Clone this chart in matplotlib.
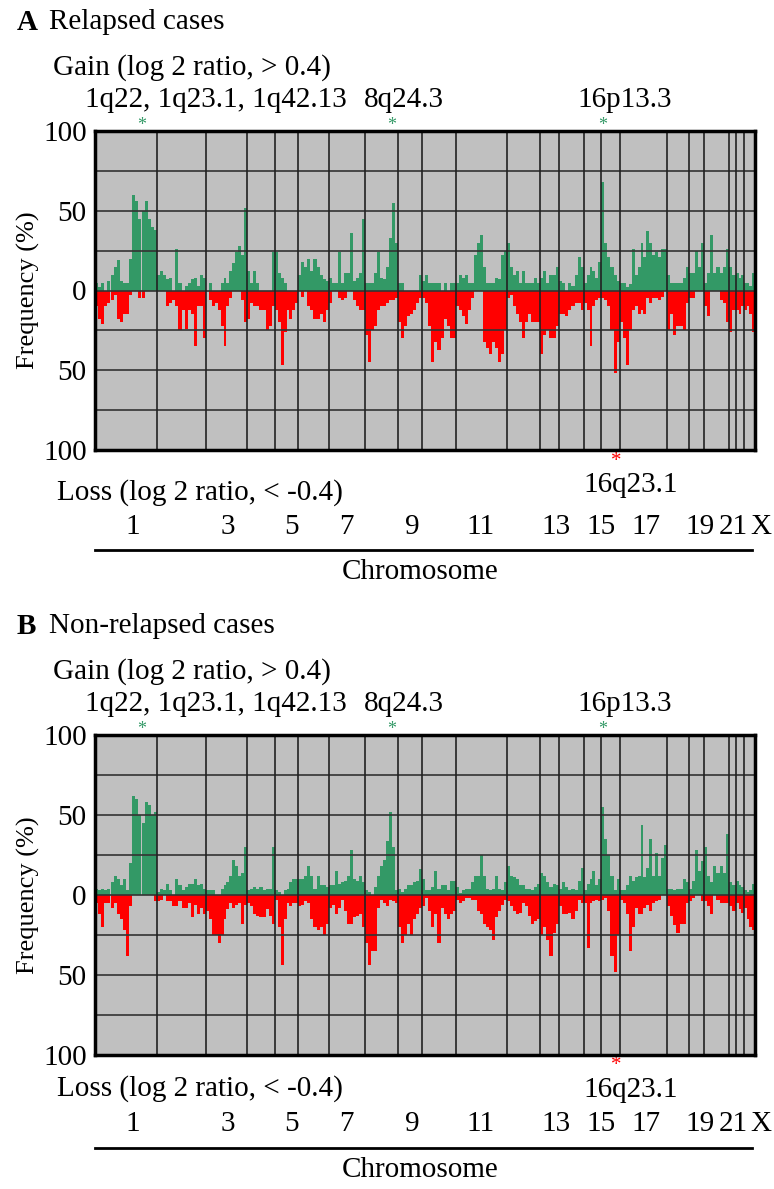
import matplotlib
matplotlib.use("Agg")
import matplotlib.pyplot as plt
from matplotlib.lines import Line2D
from matplotlib.transforms import blended_transform_factory
import numpy as np

plt.rcParams['font.family'] = ['Liberation Serif', 'DejaVu Serif']

# chromosomes and their width on the genome axis
chroms = ['1', '2', '3', '4', '5', '6', '7', '8', '9', '10', '11', '12',
          '13', '14', '15', '16', '17', '18', '19', '20', '21', '22', 'X']
chrom_span = [62, 49, 41, 28, 23, 31, 36, 33, 24, 34, 51, 33,
              19, 25, 17, 19, 47, 22, 15, 25, 7, 8, 11]

# chromosome labels under the axis
label_chroms = ['1', '3', '5', '7', '9', '11', '13', '15', '17', '19', '21', 'X']
label_pos = [38, 133, 197, 251, 317, 386, 461, 506, 551, 605, 638, 666]

# marked loci (genome position)
gain_loci = ['1q22, 1q23.1, 1q42.13', '8q24.3', '16p13.3']
gain_star_pos = [47, 297, 508]
loss_locus = '16q23.1'
loss_star_pos = 521

# frequency (%) per segment, one list per chromosome
relapsed_gain = [
    [5, 2, 5, 0, 6, 10, 15, 19, 6, 5, 5, 20, 60, 56, 45, 50, 56, 45, 40, 38],
    [10, 12, 10, 7, 8, 0, 26, 5, 0, 3, 5, 7, 8, 3, 10, 8],
    [0, 5, 0, 0, 0, 5, 8, 5, 12, 17, 24, 28, 22, 52],
    [12, 5, 12, 5, 0, 0, 0, 0, 24],
    [24, 11, 8, 5, 0, 0, 0, 0],
    [10, 18, 15, 20, 12, 20, 15, 10, 7, 6],
    [8, 5, 5, 24, 5, 11, 11, 36, 6, 8, 11, 45],
    [5, 5, 5, 11, 24, 8, 7, 15, 33, 55, 30],
    [5, 5, 0, 0, 0, 0, 0, 10],
    [6, 10, 5, 5, 5, 5, 0, 5, 0, 5, 5],
    [5, 10, 8, 10, 5, 5, 22, 30, 35, 15, 5, 5, 5, 8, 7, 22, 25],
    [30, 15, 10, 12, 5, 12, 5, 5, 5, 8, 5],
    [8, 12, 5, 10, 10, 15],
    [6, 5, 0, 5, 3, 10, 21, 15],
    [5, 10, 15, 12, 8, 18],
    [68, 30, 21, 15, 10, 6],
    [5, 5, 2, 4, 26, 10, 15, 30, 21, 37, 30, 22, 24, 21, 26, 26],
    [10, 5, 5, 5, 5, 8, 15],
    [11, 11, 25, 15, 30],
    [5, 11, 35, 11, 15, 11, 15, 26],
    [15, 10],
    [11, 8, 10],
    [5, 5, 3, 11],
]
relapsed_loss = [
    [10, 18, 21, 10, 8, 6, 3, 18, 20, 15, 15, 3, 0, 0, 5, 5, 0, 0, 0, 0],
    [0, 0, 0, 10, 8, 6, 10, 25, 12, 24, 12, 15, 35, 10, 10, 30],
    [0, 6, 10, 8, 12, 22, 35, 10, 5, 0, 0, 0, 6, 20],
    [18, 8, 10, 10, 12, 12, 25, 22, 10],
    [12, 20, 47, 26, 12, 18, 12, 8],
    [0, 4, 0, 10, 12, 18, 18, 15, 20, 12],
    [8, 0, 0, 5, 6, 5, 0, 0, 6, 10, 12, 12],
    [28, 45, 25, 22, 12, 10, 10, 8, 6, 6, 5],
    [20, 30, 22, 16, 15, 12, 8, 5],
    [5, 8, 22, 45, 32, 37, 30, 18, 22, 30, 30],
    [10, 12, 16, 21, 12, 5, 0, 0, 0, 32, 36, 40, 32, 36, 45, 40, 25],
    [5, 3, 10, 15, 20, 30, 20, 15, 20, 20, 20],
    [40, 28, 25, 30, 30, 22],
    [15, 15, 16, 12, 10, 8, 8, 12],
    [8, 12, 35, 10, 6, 5],
    [5, 6, 10, 25, 52, 32],
    [20, 30, 47, 25, 12, 10, 15, 12, 15, 5, 8, 5, 5, 6, 4, 0],
    [25, 15, 28, 22, 22, 25, 8],
    [5, 5, 0, 0, 0],
    [10, 16, 0, 0, 0, 6, 8, 20],
    [26, 12],
    [12, 15, 10],
    [12, 10, 15, 26],
]
nonrelapsed_gain = [
    [4, 3, 4, 3, 4, 8, 12, 10, 6, 10, 3, 20, 62, 60, 50, 45, 58, 56, 50, 52],
    [2, 4, 3, 7, 3, 0, 10, 6, 3, 5, 7, 7, 10, 6, 7, 4],
    [3, 3, 3, 0, 0, 4, 6, 8, 12, 22, 18, 12, 14, 30],
    [3, 4, 5, 4, 5, 3, 4, 4, 30],
    [3, 2, 0, 3, 4, 8, 10, 10],
    [10, 10, 12, 18, 12, 4, 12, 6, 6, 5],
    [6, 6, 15, 7, 8, 9, 12, 28, 10, 9, 12, 8],
    [3, 2, 0, 5, 12, 18, 22, 34, 52, 30, 3],
    [4, 2, 4, 6, 6, 8, 9, 16],
    [10, 3, 3, 5, 15, 4, 6, 6, 3, 9, 9],
    [5, 1, 3, 4, 4, 8, 12, 12, 25, 12, 4, 3, 4, 12, 4, 3, 8],
    [18, 12, 11, 10, 6, 6, 4, 4, 3, 5, 7],
    [14, 12, 8, 5, 7, 6],
    [4, 8, 5, 3, 4, 3, 9, 17],
    [3, 7, 10, 15, 6, 10],
    [55, 35, 25, 12, 3, 10],
    [3, 3, 6, 12, 9, 11, 12, 44, 11, 17, 35, 12, 26, 12, 23, 31],
    [4, 4, 3, 4, 4, 10, 8],
    [4, 9, 28, 15, 21],
    [30, 12, 8, 18, 14, 18, 14, 38],
    [8, 6],
    [9, 6, 5],
    [3, 2, 3, 7],
]
nonrelapsed_loss = [
    [5, 12, 20, 5, 5, 8, 5, 12, 15, 22, 38, 7, 0, 0, 0, 0, 0, 0, 0, 4],
    [4, 3, 0, 4, 4, 7, 7, 4, 8, 8, 5, 14, 6, 12, 8, 12],
    [10, 15, 25, 25, 30, 25, 15, 9, 5, 8, 6, 5, 18, 6],
    [5, 7, 12, 13, 14, 14, 9, 13, 18],
    [3, 20, 44, 15, 5, 7, 5, 5],
    [7, 6, 4, 5, 15, 20, 22, 20, 25, 18],
    [8, 6, 12, 8, 3, 10, 18, 18, 14, 13, 12, 20],
    [30, 44, 35, 35, 8, 3, 5, 7, 3, 4, 5],
    [20, 30, 25, 18, 25, 15, 12, 8],
    [7, 2, 10, 20, 12, 30, 8, 12, 15, 12, 10],
    [3, 5, 4, 2, 2, 3, 3, 10, 12, 18, 20, 22, 28, 14, 10, 6, 3],
    [4, 7, 10, 12, 11, 5, 7, 13, 18, 16, 15],
    [25, 20, 28, 38, 24, 18],
    [7, 12, 12, 11, 15, 10, 3, 5],
    [5, 33, 5, 4, 3, 4],
    [3, 2, 10, 38, 48, 25],
    [3, 5, 12, 35, 20, 8, 12, 12, 8, 6, 10, 5, 4, 3, 0, 0],
    [7, 13, 19, 24, 18, 18, 5],
    [4, 2, 0, 0, 4],
    [4, 7, 12, 0, 3, 5, 5, 5],
    [7, 10],
    [5, 9, 11],
    [8, 15, 20, 22],
]

W, H = 774, 1189
GREEN = '#339966'
RED = '#ff0000'
FS = 21

fig = plt.figure(figsize=(W / 100, H / 100), dpi=100)


def fx(px):
    return px / W


def fy(py):
    return 1 - py / H


def draw_panel(top, bottom, gain, loss, letter, title, dy, low):
    ax = fig.add_axes([fx(95), fy(bottom), fx(660), (bottom - top) / H])
    ax.set_facecolor('#c0c0c0')
    start = 0
    bounds = [0]
    for span, g, l in zip(chrom_span, gain, loss):
        wg = span / len(g)
        ax.bar(start + wg * np.arange(len(g)), g, width=wg, align='edge',
               color=GREEN, linewidth=0, zorder=2)
        wl = span / len(l)
        ax.bar(start + wl * np.arange(len(l)), -np.array(l), width=wl,
               align='edge', color=RED, linewidth=0, zorder=2)
        start += span
        bounds.append(start)
    for y in [-75, -50, -25, 0, 25, 50, 75]:
        ax.axhline(y, color='#333333', lw=1.2, zorder=3)
    for b in bounds[1:-1]:
        ax.axvline(b, color='#222222', lw=1.2, zorder=3)
    ax.set_xlim(0, sum(chrom_span))
    ax.set_ylim(-100, 100)
    ax.set_yticks([-100, -50, 0, 50, 100])
    ax.set_yticklabels(['100', '50', '0', '50', '100'], fontsize=FS)
    ax.tick_params(axis='y', length=0, pad=6)
    ax.set_xticks([])
    for s in ax.spines.values():
        s.set_linewidth(2.5)
        s.set_zorder(4)
    ax.set_ylabel('Frequency (%)', fontsize=19, labelpad=2)

    tr = blended_transform_factory(ax.transData, fig.transFigure)
    fig.text(fx(17), fy(22 + dy), letter, fontsize=FS, fontweight='bold', va='center')
    fig.text(fx(49), fy(22 + dy), title, fontsize=FS, va='center')
    fig.text(fx(53), fy(68 + dy), 'Gain (log 2 ratio, > 0.4)', fontsize=FS, va='center')
    fig.text(fx(85), fy(100 + dy), gain_loci[0], fontsize=21, va='center')
    fig.text(fx(364), fy(100 + dy), gain_loci[1], fontsize=21, va='center')
    fig.text(fx(577), fy(100 + dy), gain_loci[2], fontsize=FS, va='center')
    for xs in gain_star_pos:
        ax.text(xs, fy(126 + dy), '*', transform=tr, fontsize=13, color=GREEN,
                ha='center', va='center')
    star_y, locus_y, loss_y, chrom_y, line_y, name_y = low
    ax.text(loss_star_pos, fy(star_y), '*', transform=tr, fontsize=15, color=RED,
            ha='center', va='center')
    fig.text(fx(631), fy(locus_y), loss_locus, fontsize=FS, va='center', ha='center')
    fig.text(fx(57), fy(loss_y), 'Loss (log 2 ratio, < -0.4)', fontsize=FS, va='center')
    for lab, xp in zip(label_chroms, label_pos):
        ax.text(xp, fy(chrom_y), lab, transform=tr, fontsize=FS, ha='center',
                va='center', clip_on=False)
    fig.add_artist(Line2D([fx(95), fx(752)], [fy(line_y), fy(line_y)],
                          color='black', lw=2))
    fig.text(fx(420), fy(name_y), 'Chromosome', fontsize=FS, va='center', ha='center')
    return ax


draw_panel(131, 450, relapsed_gain, relapsed_loss, 'A', 'Relapsed cases', 0,
           (462, 485, 493, 527, 550, 572))
draw_panel(735, 1055, nonrelapsed_gain, nonrelapsed_loss, 'B', 'Non-relapsed cases', 604,
           (1065, 1090, 1089, 1124, 1148, 1170))

fig.savefig('out.png', dpi=100)
